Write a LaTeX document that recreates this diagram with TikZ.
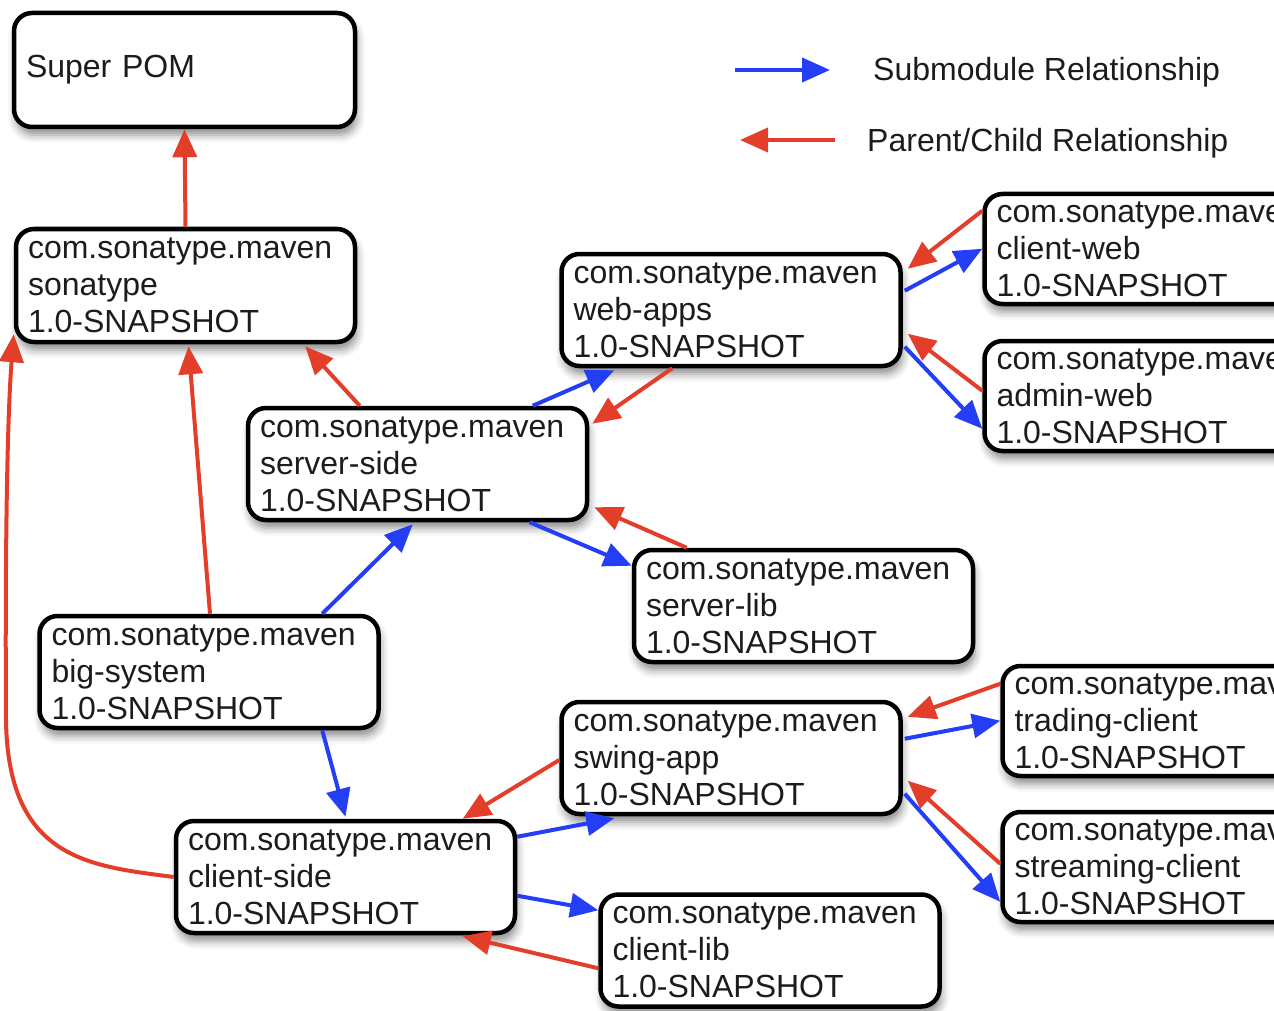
\documentclass[tikz,border=0pt]{standalone}
\usepackage{fontspec}
\setmainfont{Liberation Sans}
\usetikzlibrary{arrows.meta,calc,shadows.blur}
\definecolor{myblue}{RGB}{35,62,245}
\definecolor{myred}{RGB}{226,62,42}
\definecolor{mytext}{RGB}{28,28,28}
\tikzset{
  box/.style={draw=black, line width=4.5pt, rounded corners=18pt, fill=white,
    text width=315pt, inner xsep=12pt, inner ysep=0pt, minimum height=112pt,
    align=left, text=mytext, font=\fontsize{32}{37}\selectfont,
    blur shadow={shadow xshift=2pt, shadow yshift=-8pt, shadow blur radius=8pt, shadow opacity=45}},
  sub/.style={draw=myblue, line width=4pt, -{Triangle[length=28pt,width=24pt]}},
  par/.style={draw=myred, line width=4pt, -{Triangle[length=28pt,width=24pt]}},
  legtext/.style={anchor=west, text=mytext, font=\fontsize{32}{37}\selectfont, inner sep=0pt}
}
\begin{document}
\begin{tikzpicture}[x=1pt,y=-1pt]
\useasboundingbox (0,0) rectangle (1274,1011);
\clip (0,0) rectangle (1274,1011);
% boxes
\node[box, text width=317pt, minimum height=114pt] (superpom) at (184.5,70) {Super POM};
\node[box, minimum height=113pt] (sonatype) at (185.5,285.5) {com.sonatype.maven\\sonatype\\1.0-SNAPSHOT};
\node[box] (webapps) at (731,310) {com.sonatype.maven\\web-apps\\1.0-SNAPSHOT};
\node[box, minimum height=110pt] (clientweb) at (1154,249) {com.sonatype.maven\\client-web\\1.0-SNAPSHOT};
\node[box, minimum height=110pt] (adminweb) at (1154,396) {com.sonatype.maven\\admin-web\\1.0-SNAPSHOT};
\node[box] (serverside) at (417.5,464) {com.sonatype.maven\\server-side\\1.0-SNAPSHOT};
\node[box] (serverlib) at (803.5,606) {com.sonatype.maven\\server-lib\\1.0-SNAPSHOT};
\node[box] (bigsystem) at (209,672) {com.sonatype.maven\\big-system\\1.0-SNAPSHOT};
\node[box] (swingapp) at (731,758) {com.sonatype.maven\\swing-app\\1.0-SNAPSHOT};
\node[box, minimum height=110pt] (trading) at (1172,721) {com.sonatype.maven\\trading-client\\1.0-SNAPSHOT};
\node[box, minimum height=110pt] (streaming) at (1172,867) {com.sonatype.maven\\streaming-client\\1.0-SNAPSHOT};
\node[box] (clientside) at (345.5,877) {com.sonatype.maven\\client-side\\1.0-SNAPSHOT};
\node[box] (clientlib) at (770,950.5) {com.sonatype.maven\\client-lib\\1.0-SNAPSHOT};
% legend
\coordinate (l1a) at (735,70);
\coordinate (l1b) at (830,70);
\coordinate (l2a) at (835,140);
\coordinate (l2b) at (740,140);
\draw[sub] (l1a) -- (l1b);
\draw[par] (l2a) -- (l2b);
\node[legtext] (leg1) at (873,72) {Submodule Relationship};
\node[legtext] (leg2) at (867,143) {Parent/Child Relationship};
% connectors
\draw[par] (sonatype.north) -- (superpom.south);
\draw[par] ($(serverside.north west)+(114,0)$) -- ($(sonatype.south east)+(-52,2)$);
\draw[par] ($(bigsystem.north)+(1,0)$) -- ($(sonatype.south)+(3,2)$);
\draw[par] (clientside.west) .. controls (90,866) and (8,860) .. (6,720)
   .. controls (5,560) and (7,420) .. ($(sonatype.south west)+(0,-10)$);
\draw[sub] ($(bigsystem.north west)+(285,0)$) -- ($(serverside.south west)+(167,2)$);
\draw[sub] ($(bigsystem.south west)+(285,0)$) -- ($(clientside.north)+(0,-2)$);
\draw[sub] ($(serverside.north west)+(287,0)$) -- ($(webapps.south west)+(55,2)$);
\draw[par] ($(webapps.south west)+(113,0)$) -- ($(serverside.north east)+(3,18)$);
\draw[par] ($(clientweb.north west)+(0,19)$) -- ($(webapps.north east)+(5,17)$);
\draw[sub] ($(webapps.north east)+(2,39)$) -- ($(clientweb.north west)+(0,57)$);
\draw[par] ($(adminweb.north west)+(0,52)$) -- ($(webapps.north east)+(5,82)$);
\draw[sub] ($(webapps.north east)+(2,95)$) -- ($(adminweb.north west)+(0,90)$);
\draw[sub] ($(serverside.south west)+(284,0)$) -- ($(serverlib.north west)+(0,18)$);
\draw[par] ($(serverlib.north west)+(55,0)$) -- ($(serverside.south east)+(5,-15)$);
\draw[par] ($(swingapp.west)+(0,2)$) -- ($(clientside.north west)+(289,0)$);
\draw[sub] ($(clientside.north east)+(0,18)$) -- ($(swingapp.south west)+(55,2)$);
\draw[par] ($(trading.north west)+(0,20)$) -- ($(swingapp.north east)+(5,17)$);
\draw[sub] ($(swingapp.north east)+(2,39)$) -- ($(trading.north west)+(0,57)$);
\draw[par] ($(streaming.north west)+(0,54)$) -- ($(swingapp.north east)+(5,81)$);
\draw[sub] ($(swingapp.north east)+(2,94)$) -- ($(streaming.north west)+(0,92)$);
\draw[sub] ($(clientside.north east)+(0,77)$) -- ($(clientlib.north west)+(0,18)$);
\draw[par] ($(clientlib.north west)+(0,76)$) -- ($(clientside.south west)+(289,1)$);
\end{tikzpicture}
\end{document}
